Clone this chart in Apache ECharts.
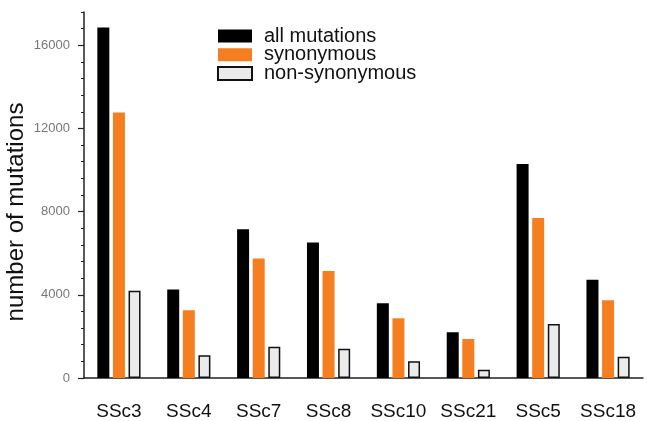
<!DOCTYPE html>
<html>
<head>
<meta charset="utf-8">
<script src="https://cdn.jsdelivr.net/npm/echarts@6/dist/echarts.min.js"></script>
<style>html,body{margin:0;padding:0;background:#fff;}#c{width:647px;height:421px;}</style>
</head>
<body>
<div id="c"></div>
<script>
var categories = ['SSc3','SSc4','SSc7','SSc8','SSc10','SSc21','SSc5','SSc18'];
var allMutations = [16850, 4250, 7150, 6520, 3590, 2200, 10290, 4725];
var synonymous = [12770, 3260, 5750, 5140, 2870, 1875, 7700, 3735];
var nonSynonymous = [4190, 1100, 1500, 1410, 800, 400, 2600, 1025];
var majorTicks = [0, 4000, 8000, 12000, 16000];

var font = '"Liberation Sans", Arial, Helvetica, sans-serif';
var chart = echarts.init(document.getElementById('c'), null, {renderer: 'canvas'});
chart.setOption({
  animation: false,
  backgroundColor: '#fff',
  textStyle: {fontFamily: font},
  grid: {left: 84, right: 4, top: 12, bottom: 43, containLabel: false},
  legend: {
    orient: 'vertical', left: 212, top: 21,
    itemWidth: 34, itemHeight: 13, itemGap: -1.3,
    icon: 'rect',
    textStyle: {fontSize: 20, lineHeight: 18.5, color: '#111', fontFamily: font, padding: [0,0,0,7]},
    data: ['all mutations', 'synonymous', 'non-synonymous']
  },
  xAxis: {
    type: 'category', data: categories,
    axisLine: {lineStyle: {color: '#222', width: 1.5}},
    axisTick: {show: false},
    axisLabel: {interval: 0, fontSize: 19, color: '#111', margin: 24, fontFamily: font}
  },
  yAxis: [{
    type: 'value', min: 0, max: 17600, interval: 800,
    axisLine: {show: true, lineStyle: {color: '#222', width: 1.5}},
    axisTick: {show: true, length: 3, lineStyle: {color: '#222'}},
    splitLine: {show: false},
    axisLabel: {customValues: majorTicks, fontSize: 13, color: '#777', margin: 14, fontFamily: font,
      formatter: function (v) { return String(v); }}
  }, {
    type: 'value', min: 0, max: 17600, interval: 800, position: 'left',
    axisLine: {show: false},
    axisTick: {show: true, length: 6, customValues: majorTicks, lineStyle: {color: '#222', width: 1.2}},
    splitLine: {show: false},
    axisLabel: {show: false}
  }],
  graphic: [{
    type: 'text',
    x: 16, y: 212,
    rotation: Math.PI / 2,
    style: {text: 'number of mutations', font: '24px ' + font, fill: '#111',
      textAlign: 'center', textVerticalAlign: 'middle'}
  }],
  series: [{
    name: 'all mutations', type: 'bar', data: allMutations,
    barWidth: 12, barGap: '30%',
    itemStyle: {color: '#000'}
  }, {
    name: 'synonymous', type: 'bar', data: synonymous,
    barWidth: 12, barGap: '30%',
    itemStyle: {color: '#F47E20'}
  }, {
    name: 'non-synonymous', type: 'bar', data: nonSynonymous,
    barWidth: 12, barGap: '30%',
    itemStyle: {color: '#EBEBEB', borderColor: '#111', borderWidth: 1.5}
  }]
});
</script>
</body>
</html>
